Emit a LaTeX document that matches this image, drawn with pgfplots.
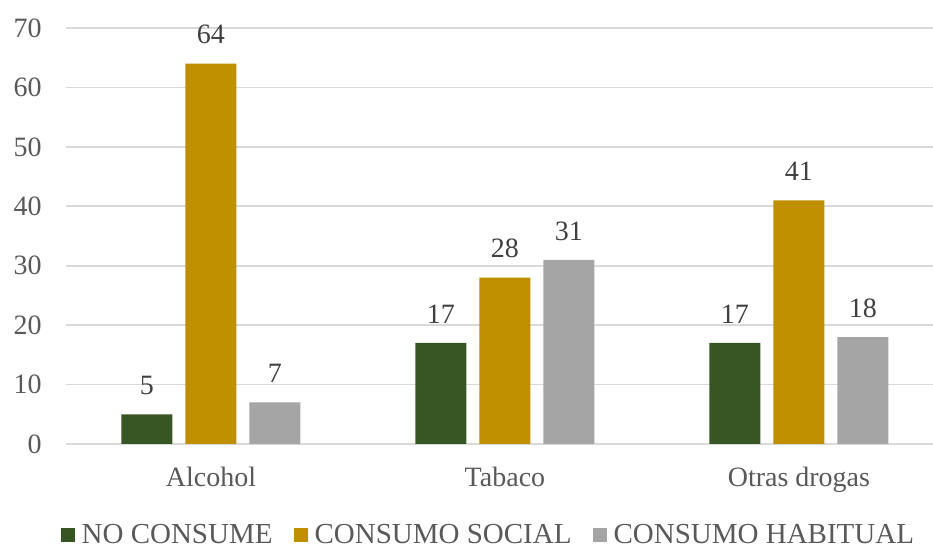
\documentclass[border=0pt]{standalone}
\usepackage{pgfplots}
\pgfplotsset{compat=1.18}
\usepackage{fontspec}
\setmainfont{Liberation Serif}

\definecolor{noconsume}{HTML}{375623}
\definecolor{social}{HTML}{BF8F00}
\definecolor{habitual}{HTML}{A5A5A5}
\definecolor{gridgray}{HTML}{D9D9D9}
\definecolor{labelgray}{HTML}{595959}
\definecolor{valuegray}{HTML}{404040}

\begin{document}
\begin{tikzpicture}
    \begin{axis}[
        name=ax,
        scale only axis,
        width=433.5pt,
        height=208pt,
        ybar=6.5pt,
        bar width=25.5pt,
        xmin=-0.493, xmax=2.456,
        ymin=0, ymax=70,
        ytick={0,10,...,70},
        xtick=data,
        xticklabels={Alcohol, Tabaco, Otras drogas},
        ymajorgrids,
        grid style={gridgray, line width=0.8pt},
        axis line style={draw=none},
        major tick length=0pt,
        /pgf/number format/assume math mode=true,
        tick label style={font=\fontsize{14}{16}\selectfont, text=labelgray},
        yticklabel style={anchor=east, inner sep=0pt, xshift=-12pt},
        xticklabel style={anchor=base, inner sep=0pt, yshift=-21.5pt},
        nodes near coords,
        every node near coord/.append style={font=\fontsize{14}{16}\selectfont,
            text=valuegray, anchor=south, inner sep=0pt, yshift=9.5pt},
        legend columns=3,
        legend image code/.code={\fill[#1] (0pt,-3.5pt) rectangle (7pt,3.5pt);},
        legend style={draw=none, fill=none, at={(0.486,0)}, anchor=center,
            yshift=-45.5pt, font=\fontsize{14.5}{17}\selectfont, text=labelgray,
            nodes={inner sep=0pt},
            /tikz/every odd column/.append style={column sep=3.5pt},
            /tikz/every even column/.append style={column sep=10.5pt}},
        ]
        \addplot[fill=noconsume, draw=none] coordinates {(0,5) (1,17) (2,17)};
        \addplot[fill=social, draw=none] coordinates {(0,64) (1,28) (2,41)};
        \addplot[fill=habitual, draw=none] coordinates {(0,7) (1,31) (2,18)};
        \legend{NO CONSUME, CONSUMO SOCIAL, CONSUMO HABITUAL}
    \end{axis}
    \pgfresetboundingbox
    \path[use as bounding box] ([xshift=-33pt, yshift=-54pt]ax.south west)
        rectangle ([yshift=14pt]ax.north east);
\end{tikzpicture}
\end{document}
